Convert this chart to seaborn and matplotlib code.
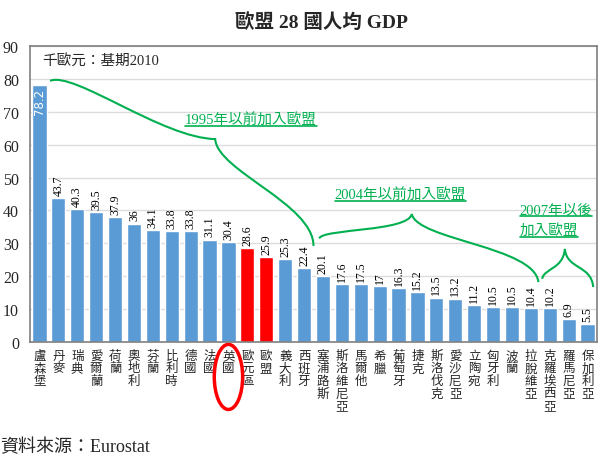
import matplotlib
matplotlib.use("Agg")
import matplotlib.pyplot as plt
import seaborn as sns
import pandas as pd
from matplotlib.path import Path
from matplotlib.patches import PathPatch, Ellipse
from matplotlib.lines import Line2D
import matplotlib.transforms as mtransforms

countries = ["盧森堡", "丹麥", "瑞典", "愛爾蘭", "荷蘭", "奧地利", "芬蘭", "比利時",
             "德國", "法國", "英國", "歐元區", "歐盟", "義大利", "西班牙", "塞浦路斯",
             "斯洛維尼亞", "馬爾他", "希臘", "葡萄牙", "捷克", "斯洛伐克", "愛沙尼亞",
             "立陶宛", "匈牙利", "波蘭", "拉脫維亞", "克羅埃西亞", "羅馬尼亞", "保加利亞"]
gdp = [78.2, 43.7, 40.3, 39.5, 37.9, 36, 34.1, 33.8, 33.8, 31.1, 30.4, 28.6, 25.9,
       25.3, 22.4, 20.1, 17.6, 17.5, 17, 16.3, 15.2, 13.5, 13.2, 11.2, 10.5, 10.5,
       10.4, 10.2, 6.9, 5.5]
highlight = ["歐元區", "歐盟"]

BLUE = "#5B9BD5"
RED = "#FF0000"
GREEN = "#00B050"

sns.set_style("white")
plt.rcParams["font.family"] = ["Liberation Serif", "Noto Sans CJK TC", "DejaVu Sans"]

df = pd.DataFrame({"country": countries, "gdp": gdp})
palette = {c: (RED if c in highlight else BLUE) for c in countries}

fig, ax = plt.subplots(figsize=(6, 4.6), dpi=100)
fig.subplots_adjust(left=30 / 600, right=597 / 600, top=1 - 47 / 460, bottom=1 - 343 / 460)

sns.barplot(data=df, x="country", y="gdp", hue="country", palette=palette,
            legend=False, width=0.75, saturation=1, ax=ax)

ax.set_ylim(0, 90)
ax.set_xlim(-0.5, len(countries) - 0.5)
ax.set_yticks(range(0, 91, 10))
ax.yaxis.grid(True, color="#dcdcdc", lw=1)
ax.set_axisbelow(True)
for s in ax.spines.values():
    s.set_color("#7f7f7f")
    s.set_linewidth(1.2)
ax.tick_params(axis="both", length=0)
ax.tick_params(axis="y", labelsize=11.5, pad=8)
ax.set_xlabel("")
ax.set_ylabel("")
ax.set_xticks(range(len(countries)))
ax.set_xticklabels(["\n".join(c) for c in countries], fontsize=9,
                   family=["Noto Sans CJK TC"], linespacing=0.95, va="top")
ax.tick_params(axis="x", pad=5)

# value labels
for i, v in enumerate(gdp):
    if i == 0:
        ax.text(i, v - 0.8, f"{v:g}", rotation=90, ha="center", va="top",
                fontsize=8.5, color="white", family=["DejaVu Sans"])
    else:
        ax.text(i, v + 1.0, f"{v:g}", rotation=90, ha="center", va="bottom",
                fontsize=8.5, color="black")

ax.text(0.021, 0.949, "千歐元：基期2010", transform=ax.transAxes, fontsize=10.5,
        va="center", ha="left")

fig.text(0.535, 0.952, "歐盟 28 國人均 GDP", fontsize=14, fontweight="bold",
         ha="center", va="center")
fig.text(0.0, 0.028, "資料來源：Eurostat", fontsize=13, ha="left", va="center")


def brace(points):
    verts = [points[0]]
    codes = [Path.MOVETO]
    for k in range(1, len(points), 3):
        verts += points[k:k + 3]
        codes += [Path.CURVE4] * 3
    ax.add_patch(PathPatch(Path(verts, codes), fill=False, ec=GREEN, lw=1.5,
                           clip_on=False))


brace([(0.56, 79.4), (1.8, 82.5), (6.5, 62.0), (9.3, 61.7),
       (9.4, 52.0), (14.5, 42.0), (14.5, 29.2)])
brace([(14.8, 31.5), (15.0, 34.5), (19.5, 33.5), (19.7, 38.9),
       (20.0, 31.0), (26.2, 29.0), (26.4, 18.2)])
brace([(26.6, 19.2), (26.7, 22.5), (27.7, 22.0), (27.8, 28.3),
       (27.9, 22.0), (29.2, 23.5), (29.3, 16.7)])

labels = [
    ax.text(11.2, 67.5, "1995年以前加入歐盟", color=GREEN, fontsize=10.5, ha="center", va="center"),
    ax.text(19.1, 44.7, "2004年以前加入歐盟", color=GREEN, fontsize=10.5, ha="center", va="center"),
    ax.text(25.4, 40.1, "2007年以後", color=GREEN, fontsize=10.5, ha="left", va="center"),
    ax.text(25.4, 33.7, "加入歐盟", color=GREEN, fontsize=10.5, ha="left", va="center"),
]

# underline the green labels
fig.canvas.draw()
renderer = fig.canvas.get_renderer()
inv = fig.transFigure.inverted()
for t in labels:
    bb = t.get_window_extent(renderer)
    (x0, y0), (x1, _) = inv.transform([(bb.x0, bb.y0 + 1), (bb.x1, bb.y0 + 1)])
    fig.add_artist(Line2D([x0, x1], [y0, y0], color=GREEN, lw=1.2,
                          transform=fig.transFigure))

# red circle around UK label
trans = mtransforms.blended_transform_factory(ax.transData, ax.transAxes)
ax.add_patch(Ellipse((countries.index("英國"), -0.118), 1.5, 0.22, transform=trans,
                     fill=False, ec=RED, lw=2.5, clip_on=False))

fig.savefig("out.png", dpi=100)
